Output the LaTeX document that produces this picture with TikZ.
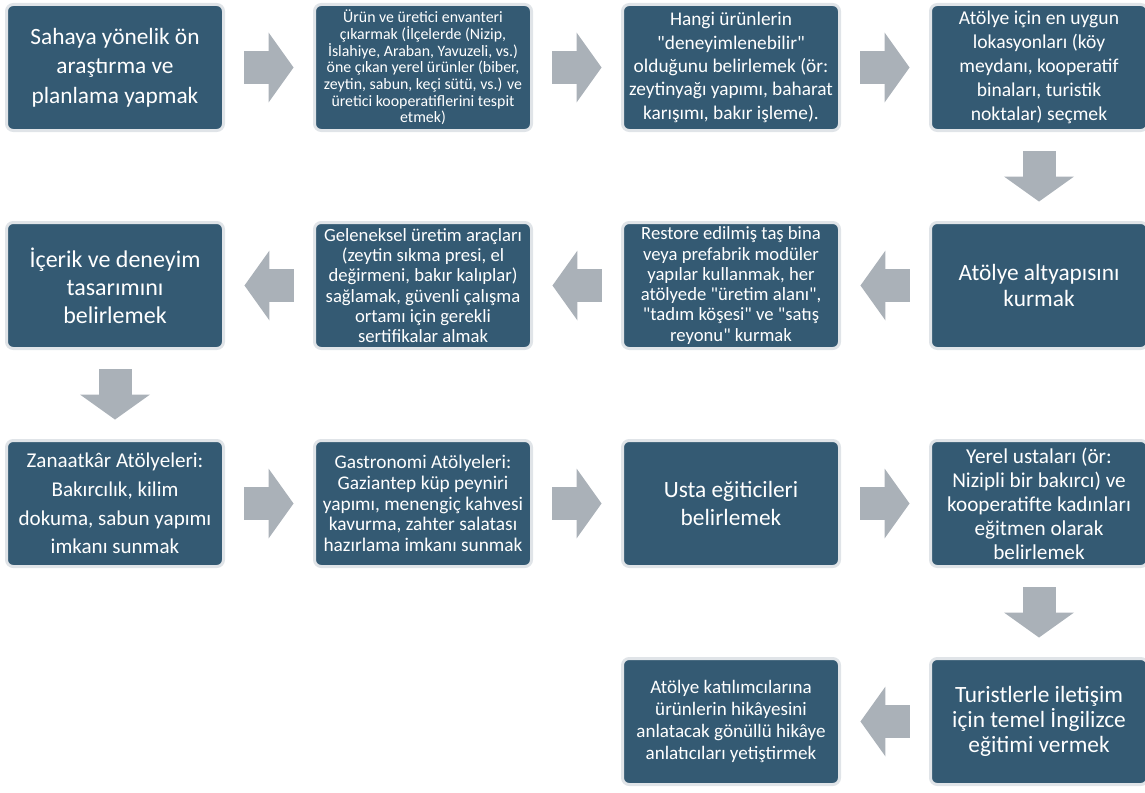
\documentclass[tikz,border=0pt]{standalone}
\usepackage{fontspec}
\setmainfont{Carlito}
\usetikzlibrary{arrows.meta,positioning}
\definecolor{BoxDark}{RGB}{52,90,115}
\definecolor{BoxRim}{RGB}{224,228,232}
\definecolor{ArrowGray}{RGB}{170,177,184}
\newcommand{\qt}[1]{\textquotedbl#1\textquotedbl}

\begin{document}
\begin{tikzpicture}[x=0.75pt,y=-0.75pt,
        box/.style={draw=BoxRim,fill=BoxDark,line width=2.25pt,rounded corners=5pt,
                    text=white,align=center,inner sep=1pt,
                    minimum width=162.75pt,minimum height=94.5pt},
        fA/.style={font=\fontsize{17.5}{22}\selectfont},
        fB/.style={font=\fontsize{17.5}{19}\selectfont},
        fZ/.style={font=\fontsize{15.8}{21.5}\selectfont},
        fC/.style={font=\fontsize{15.5}{18}\selectfont},
        fD/.style={font=\fontsize{14.3}{16.5}\selectfont},
        fE/.style={font=\fontsize{14}{15.2}\selectfont},
        fF/.style={font=\fontsize{11.9}{12.5}\selectfont},
        arr/.style={draw=ArrowGray,line width=24.75pt,shorten <=14.6pt,shorten >=14.6pt,
                    -{Triangle[length=18.75pt,width=52.5pt,line width=0pt]}}
      ]
        \useasboundingbox (0,0) rectangle (1145,792);
        % row 1
        \node[box,fA] (survey) at (115,67.5) {Sahaya yönelik ön\\araştırma ve\\planlama yapmak};
        \node[box,fF,right=66pt of survey] (inventory) {Ürün ve üretici envanteri\\çıkarmak (İlçelerde (Nizip,\\İslahiye, Araban, Yavuzeli, vs.)\\öne çıkan yerel ürünler (biber,\\zeytin, sabun, keçi sütü, vs.) ve\\üretici kooperatiflerini tespit\\etmek)};
        \node[box,fD,font=\fontsize{14.5}{17.5}\selectfont,right=66pt of inventory] (select) {Hangi ürünlerin\\\qt{deneyimlenebilir}\\olduğunu belirlemek (ör:\\zeytinyağı yapımı, baharat\\karışımı, bakır işleme).};
        \node[box,fC,font=\fontsize{14.7}{18}\selectfont,right=66pt of select] (location) {Atölye için en uygun\\lokasyonları (köy\\meydanı, kooperatif\\binaları, turistik\\noktalar) seçmek};
        % row 2
        \node[box,fB,below=66.75pt of location] (infra) {Atölye altyapısını\\kurmak};
        \node[box,fE,left=66pt of infra] (building) {Restore edilmiş taş bina\\veya prefabrik modüler\\yapılar kullanmak, her\\atölyede \qt{üretim alanı},\\\qt{tadım köşesi} ve \qt{satış\\reyonu} kurmak};
        \node[box,fE,left=66pt of building] (tools) {Geleneksel üretim araçları\\(zeytin sıkma presi, el\\değirmeni, bakır kalıplar)\\sağlamak, güvenli çalışma\\ortamı için gerekli\\sertifikalar almak};
        \node[box,fA,font=\fontsize{18}{21}\selectfont,left=66pt of tools] (design) {İçerik ve deneyim\\tasarımını\\belirlemek};
        % row 3
        \node[box,fZ,below=66.75pt of design] (craft) {Zanaatkâr Atölyeleri:\\Bakırcılık, kilim\\dokuma, sabun yapımı\\imkanı sunmak};
        \node[box,fE,font=\fontsize{14.5}{15.5}\selectfont,right=66pt of craft] (gastro) {Gastronomi Atölyeleri:\\Gaziantep küp peyniri\\yapımı, menengiç kahvesi\\kavurma, zahter salatası\\hazırlama imkanı sunmak};
        \node[box,fB,font=\fontsize{17.5}{20.5}\selectfont,right=66pt of gastro] (masters) {Usta eğiticileri\\belirlemek};
        \node[box,fC,font=\fontsize{15.9}{18}\selectfont,right=66pt of masters] (locals) {Yerel ustaları (ör:\\Nizipli bir bakırcı) ve\\kooperatifte kadınları\\eğitmen olarak\\belirlemek};
        % row 4
        \node[box,fB,below=66.75pt of locals] (english) {Turistlerle iletişim\\için temel İngilizce\\eğitimi vermek};
        \node[box,fD,left=66pt of english] (story) {Atölye katılımcılarına\\ürünlerin hikâyesini\\anlatacak gönüllü hikâye\\anlatıcıları yetiştirmek};
        % arrows
        \draw[arr] (survey)--(inventory);
        \draw[arr] (inventory)--(select);
        \draw[arr] (select)--(location);
        \draw[arr] (location)--(infra);
        \draw[arr] (infra)--(building);
        \draw[arr] (building)--(tools);
        \draw[arr] (tools)--(design);
        \draw[arr] (design)--(craft);
        \draw[arr] (craft)--(gastro);
        \draw[arr] (gastro)--(masters);
        \draw[arr] (masters)--(locals);
        \draw[arr] (locals)--(english);
        \draw[arr] (english)--(story);
      \end{tikzpicture}
\end{document}
